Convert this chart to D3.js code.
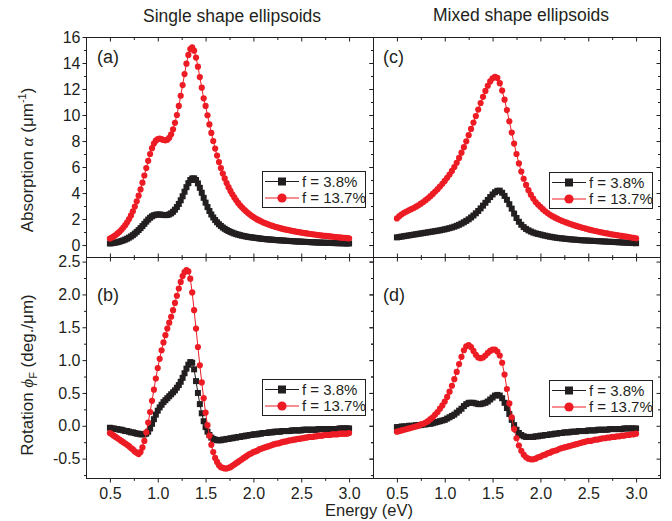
<!DOCTYPE html>
<html>
<head>
<meta charset="utf-8">
<title>absorption and faraday rotation</title>
<script src="https://d3js.org/d3.v7.min.js"></script>
<style>
  body { margin: 0; background: #fff; }
  svg text { font-family: 'Liberation Sans', Arial, sans-serif; fill: #231f20; }
</style>
</head>
<body>
<svg id="chart" width="672" height="521"></svg>
<script>

// energy grid: single shape every 0.02 eV, mixed shape every 0.025 eV, from 0.5 eV
var eStart = 0.5, stepSingle = 0.02, stepMixed = 0.025;

// (a) absorption, single shape
var absSingle38 = [
  0.12,0.14,0.16,0.19,0.22,0.26,0.31,0.36,0.42,0.49,
  0.57,0.66,0.76,0.88,1.01,1.15,1.30,1.46,1.63,1.80,
  1.96,2.10,2.21,2.29,2.33,2.35,2.35,2.33,2.31,2.30,
  2.31,2.36,2.44,2.56,2.72,2.92,3.16,3.44,3.75,4.10,
  4.45,4.76,5.00,5.12,5.13,5.00,4.74,4.40,4.02,3.63,
  3.26,2.92,2.62,2.35,2.12,1.92,1.75,1.60,1.47,1.35,
  1.25,1.16,1.08,1.01,0.95,0.89,0.84,0.80,0.76,0.72,
  0.69,0.66,0.63,0.61,0.59,0.57,0.55,0.53,0.51,0.49,
  0.47,0.46,0.44,0.43,0.42,0.41,0.39,0.38,0.37,0.36,
  0.35,0.34,0.33,0.32,0.31,0.30,0.29,0.28,0.27,0.27,
  0.26,0.25,0.24,0.24,0.23,0.22,0.21,0.21,0.20,0.19,
  0.19,0.18,0.18,0.17,0.17,0.16,0.16,0.15,0.15,0.14,
  0.14,0.14,0.13,0.13,0.12,0.12
];
var absSingle137 = [
  0.50,0.58,0.67,0.77,0.89,1.02,1.17,1.34,1.53,1.75,
  2.00,2.28,2.60,2.96,3.36,3.80,4.28,4.80,5.35,5.92,
  6.48,7.00,7.45,7.80,8.03,8.15,8.18,8.14,8.08,8.05,
  8.10,8.25,8.52,8.90,9.40,10.00,10.70,11.48,12.30,13.15,
  13.95,14.62,15.07,15.20,14.95,14.42,13.72,12.92,12.10,11.28,
  10.70,9.98,9.28,8.62,8.00,7.42,6.88,6.38,5.92,5.50,
  5.12,4.77,4.45,4.16,3.90,3.66,3.44,3.24,3.06,2.90,
  2.75,2.61,2.48,2.36,2.25,2.15,2.06,1.97,1.89,1.82,
  1.75,1.69,1.63,1.57,1.52,1.47,1.42,1.38,1.34,1.30,
  1.26,1.22,1.19,1.16,1.13,1.10,1.07,1.04,1.01,0.99,
  0.96,0.94,0.91,0.89,0.87,0.85,0.83,0.81,0.79,0.77,
  0.75,0.73,0.71,0.70,0.68,0.66,0.65,0.63,0.62,0.60,
  0.59,0.57,0.56,0.55,0.53,0.52
];

// (b) rotation, single shape
var rotSingle38 = [
  -0.03,-0.04,-0.04,-0.05,-0.05,-0.06,-0.06,-0.07,-0.08,-0.08,
  -0.09,-0.10,-0.10,-0.11,-0.12,-0.12,-0.13,-0.13,-0.13,-0.12,
  -0.09,-0.04,0.03,0.10,0.17,0.23,0.28,0.32,0.36,0.39,
  0.42,0.45,0.48,0.51,0.54,0.58,0.62,0.67,0.73,0.80,
  0.87,0.93,0.97,0.96,0.86,0.68,0.50,0.33,0.19,0.07,
  -0.02,-0.09,-0.14,-0.18,-0.20,-0.21,-0.22,-0.22,-0.22,-0.21,
  -0.21,-0.20,-0.20,-0.19,-0.19,-0.18,-0.18,-0.17,-0.17,-0.16,
  -0.16,-0.15,-0.15,-0.14,-0.14,-0.13,-0.13,-0.13,-0.12,-0.12,
  -0.11,-0.11,-0.11,-0.10,-0.10,-0.10,-0.09,-0.09,-0.09,-0.09,
  -0.08,-0.08,-0.08,-0.08,-0.08,-0.07,-0.07,-0.07,-0.07,-0.07,
  -0.07,-0.06,-0.06,-0.06,-0.06,-0.06,-0.06,-0.06,-0.06,-0.05,
  -0.05,-0.05,-0.05,-0.05,-0.05,-0.05,-0.05,-0.05,-0.05,-0.05,
  -0.04,-0.04,-0.04,-0.04,-0.04,-0.04
];
var rotSingle137 = [
  -0.11,-0.13,-0.15,-0.17,-0.19,-0.21,-0.23,-0.25,-0.27,-0.29,
  -0.31,-0.34,-0.36,-0.39,-0.41,-0.43,-0.40,-0.33,-0.23,-0.10,
  0.05,0.21,0.38,0.55,0.72,0.88,1.02,1.15,1.27,1.38,
  1.48,1.57,1.66,1.76,1.87,1.98,2.09,2.19,2.28,2.34,
  2.37,2.35,2.24,2.03,1.76,1.48,1.20,0.92,0.66,0.42,
  0.20,0.01,-0.15,-0.29,-0.40,-0.49,-0.55,-0.60,-0.63,-0.64,
  -0.65,-0.65,-0.64,-0.63,-0.61,-0.59,-0.57,-0.55,-0.53,-0.51,
  -0.49,-0.47,-0.45,-0.43,-0.42,-0.40,-0.39,-0.38,-0.36,-0.35,
  -0.34,-0.33,-0.32,-0.31,-0.30,-0.29,-0.28,-0.27,-0.27,-0.26,
  -0.25,-0.24,-0.24,-0.23,-0.22,-0.22,-0.21,-0.21,-0.20,-0.20,
  -0.19,-0.19,-0.18,-0.18,-0.17,-0.17,-0.17,-0.16,-0.16,-0.15,
  -0.15,-0.15,-0.14,-0.14,-0.14,-0.14,-0.13,-0.13,-0.13,-0.13,
  -0.12,-0.12,-0.12,-0.12,-0.12,-0.11
];

// (c) absorption, mixed shape
var absMixed38 = [
  0.59,0.62,0.65,0.68,0.71,0.74,0.77,0.80,0.83,0.86,
  0.89,0.92,0.95,0.98,1.01,1.04,1.07,1.10,1.13,1.17,
  1.21,1.25,1.30,1.35,1.41,1.48,1.56,1.65,1.75,1.86,
  1.98,2.12,2.27,2.44,2.62,2.82,3.03,3.25,3.47,3.69,
  3.89,4.06,4.17,4.18,4.02,3.78,3.48,3.14,2.80,2.42,
  2.08,1.79,1.56,1.38,1.24,1.13,1.04,0.96,0.90,0.85,
  0.81,0.76,0.72,0.68,0.64,0.61,0.58,0.55,0.53,0.51,
  0.49,0.47,0.45,0.43,0.42,0.40,0.39,0.37,0.36,0.35,
  0.34,0.33,0.32,0.31,0.30,0.29,0.28,0.27,0.26,0.25,
  0.24,0.23,0.22,0.21,0.20,0.19,0.18,0.17,0.16,0.15,
  0.14
];
var absMixed137 = [
  2.05,2.22,2.36,2.48,2.58,2.67,2.76,2.85,2.95,3.06,
  3.18,3.31,3.45,3.60,3.76,3.93,4.11,4.30,4.50,4.71,
  4.93,5.17,5.42,5.70,6.00,6.33,6.70,7.10,7.53,7.98,
  8.45,8.93,9.42,9.92,10.42,10.92,11.40,11.85,12.25,12.58,
  12.82,12.93,12.85,12.45,11.88,11.18,10.38,9.52,8.65,7.80,
  7.00,6.28,5.65,5.10,4.62,4.22,3.87,3.57,3.31,3.11,
  2.94,2.76,2.60,2.46,2.33,2.22,2.12,2.03,1.94,1.86,
  1.79,1.72,1.65,1.59,1.53,1.47,1.41,1.36,1.31,1.26,
  1.21,1.16,1.12,1.08,1.04,1.00,0.96,0.92,0.89,0.85,
  0.82,0.79,0.76,0.73,0.70,0.67,0.64,0.61,0.58,0.55,
  0.52
];

// (d) rotation, mixed shape
var rotMixed38 = [
  -0.02,-0.02,-0.01,-0.01,-0.01,0.00,0.00,0.00,0.01,0.01,
  0.01,0.02,0.02,0.03,0.03,0.04,0.05,0.06,0.07,0.08,
  0.09,0.11,0.13,0.15,0.17,0.20,0.23,0.26,0.30,0.33,
  0.35,0.35,0.35,0.34,0.33,0.33,0.34,0.35,0.37,0.40,
  0.43,0.46,0.47,0.46,0.42,0.35,0.27,0.18,0.09,0.01,
  -0.06,-0.11,-0.14,-0.16,-0.17,-0.17,-0.17,-0.17,-0.16,-0.16,
  -0.15,-0.15,-0.14,-0.14,-0.13,-0.13,-0.12,-0.12,-0.11,-0.11,
  -0.10,-0.10,-0.10,-0.09,-0.09,-0.09,-0.08,-0.08,-0.08,-0.08,
  -0.07,-0.07,-0.07,-0.07,-0.06,-0.06,-0.06,-0.06,-0.06,-0.05,
  -0.05,-0.05,-0.05,-0.05,-0.05,-0.04,-0.04,-0.04,-0.04,-0.04,
  -0.04
];
var rotMixed137 = [
  -0.09,-0.08,-0.07,-0.06,-0.05,-0.04,-0.03,-0.02,-0.01,0.00,
  0.02,0.03,0.05,0.07,0.10,0.13,0.17,0.21,0.26,0.31,
  0.37,0.44,0.52,0.61,0.71,0.82,0.94,1.05,1.15,1.21,
  1.23,1.20,1.14,1.08,1.04,1.03,1.04,1.07,1.11,1.14,
  1.16,1.16,1.13,1.07,0.96,0.78,0.56,0.34,0.13,-0.05,
  -0.19,-0.30,-0.38,-0.44,-0.48,-0.50,-0.51,-0.51,-0.50,-0.48,
  -0.47,-0.45,-0.44,-0.42,-0.41,-0.39,-0.38,-0.37,-0.35,-0.34,
  -0.33,-0.32,-0.31,-0.30,-0.29,-0.28,-0.27,-0.26,-0.25,-0.24,
  -0.23,-0.23,-0.22,-0.21,-0.21,-0.20,-0.19,-0.19,-0.18,-0.18,
  -0.17,-0.17,-0.16,-0.16,-0.15,-0.15,-0.14,-0.14,-0.13,-0.13,
  -0.12
];

var xTicks = [0.5, 1.0, 1.5, 2.0, 2.5, 3.0];
var xMinor = [0.75, 1.25, 1.75, 2.25, 2.75];
var absTicks = [0, 2, 4, 6, 8, 10, 12, 14, 16];
var absMinor = [1, 3, 5, 7, 9, 11, 13, 15];
var rotTicks = [-0.5, 0.0, 0.5, 1.0, 1.5, 2.0, 2.5];
var rotMinor = [-0.75, -0.25, 0.25, 0.75, 1.25, 1.75, 2.25];
var legendLabels = ['f = 3.8%', 'f = 13.7%'];
var titles = ['Single shape ellipsoids', 'Mixed shape ellipsoids'];
var panelNames = ['(a)', '(b)', '(c)', '(d)'];

var ink = '#231f20', red = '#ed1c24';

var svg = d3.select('#chart');

// panel boxes
var cols = [[86, 373], [373, 660]];
var rows = [[37, 257], [257, 478]];

var panels = [
  {name: panelNames[0], col: 0, row: 0, step: stepSingle, black: absSingle38, red: absSingle137, legendY: 171},
  {name: panelNames[1], col: 0, row: 1, step: stepSingle, black: rotSingle38, red: rotSingle137, legendY: 379},
  {name: panelNames[2], col: 1, row: 0, step: stepMixed, black: absMixed38, red: absMixed137, legendY: 172},
  {name: panelNames[3], col: 1, row: 1, step: stepMixed, black: rotMixed38, red: rotMixed137, legendY: 380}
];

function styleAxis(g) {
  g.attr('font-size', null).attr('font-family', null);
  g.select('.domain').remove();
  g.selectAll('.tick line').attr('stroke', ink).attr('stroke-width', 1);
  g.selectAll('.tick text').attr('fill', null).attr('font-size', 16);
}

panels.forEach(function(p) {
  var x = d3.scaleLinear().domain([0.25, 3.25]).range(cols[p.col]);
  var y = p.row == 0
    ? d3.scaleLinear().domain([-0.92, 16]).range([rows[0][1], rows[0][0]])
    : d3.scaleLinear().domain([-0.795, 2.57]).range([rows[1][1], rows[1][0]]);
  var major = p.row == 0 ? absTicks : rotTicks;
  var minor = p.row == 0 ? absMinor : rotMinor;
  var fmt = p.row == 0 ? (d => String(d)) : (d => d.toFixed(1));
  var x0 = cols[p.col][0], x1 = cols[p.col][1], y0 = rows[p.row][0], y1 = rows[p.row][1];

  var g = svg.append('g');

  // frame
  g.append('rect')
    .attr('x', x0 + 0.5).attr('y', y0 + 0.5)
    .attr('width', x1 - x0).attr('height', y1 - y0)
    .attr('fill', 'none').attr('stroke', ink).attr('stroke-width', 1);

  // left ticks (labels only on left column)
  g.append('g').attr('transform', 'translate(' + (x0 + 0.5) + ',0)')
    .call(d3.axisLeft(y).tickValues(major).tickSize(4).tickPadding(2)
      .tickFormat(p.col == 0 ? fmt : ''))
    .call(styleAxis);
  g.append('g').attr('transform', 'translate(' + (x0 + 0.5) + ',0)')
    .call(d3.axisLeft(y).tickValues(minor).tickSize(2.5).tickFormat(''))
    .call(styleAxis);
  // right ticks, inward
  g.append('g').attr('transform', 'translate(' + (x1 + 0.5) + ',0)')
    .call(d3.axisRight(y).tickValues(major).tickSize(-4).tickFormat(''))
    .call(styleAxis);
  g.append('g').attr('transform', 'translate(' + (x1 + 0.5) + ',0)')
    .call(d3.axisRight(y).tickValues(minor).tickSize(-2.5).tickFormat(''))
    .call(styleAxis);
  // top ticks, inward
  g.append('g').attr('transform', 'translate(0,' + (y0 + 0.5) + ')')
    .call(d3.axisTop(x).tickValues(xTicks).tickSize(-4).tickFormat(''))
    .call(styleAxis);
  g.append('g').attr('transform', 'translate(0,' + (y0 + 0.5) + ')')
    .call(d3.axisTop(x).tickValues(xMinor).tickSize(-2.5).tickFormat(''))
    .call(styleAxis);
  // bottom ticks: outward with labels on the bottom row, inward on the top row
  var out = p.row == 1 ? 4 : -4;
  g.append('g').attr('transform', 'translate(0,' + (y1 + 0.5) + ')')
    .call(d3.axisBottom(x).tickValues(xTicks).tickSize(out).tickPadding(5)
      .tickFormat(p.row == 1 ? (d => d.toFixed(1)) : ''))
    .call(styleAxis);
  g.append('g').attr('transform', 'translate(0,' + (y1 + 0.5) + ')')
    .call(d3.axisBottom(x).tickValues(xMinor).tickSize(out * 0.6).tickFormat(''))
    .call(styleAxis);

  // series: black squares first, red circles on top
  var line = d3.line().x((d, i) => x(eStart + i * p.step)).y(d => y(d));

  g.append('path').datum(p.black)
    .attr('d', line).attr('fill', 'none').attr('stroke', ink).attr('stroke-width', 1);
  g.selectAll('rect.sq').data(p.black).enter().append('rect')
    .attr('class', 'sq')
    .attr('x', (d, i) => x(eStart + i * p.step) - 3)
    .attr('y', d => y(d) - 3)
    .attr('width', 6).attr('height', 6)
    .attr('fill', ink);

  g.append('path').datum(p.red)
    .attr('d', line).attr('fill', 'none').attr('stroke', red).attr('stroke-width', 1);
  g.selectAll('circle.dot').data(p.red).enter().append('circle')
    .attr('class', 'dot')
    .attr('cx', (d, i) => x(eStart + i * p.step))
    .attr('cy', d => y(d))
    .attr('r', 3.1)
    .attr('fill', red);

  // panel letter
  g.append('text')
    .attr('x', x0 + (p.col == 0 ? 11 : 10))
    .attr('y', p.row == 0 ? 63 : 301)
    .attr('font-size', 18)
    .text(p.name);

  // legend
  var lx = x1 - 111, ly = p.legendY;
  var lg = g.append('g').attr('transform', 'translate(' + lx + ',' + ly + ')');
  lg.append('rect')
    .attr('x', 0.5).attr('y', 0.5).attr('width', 103).attr('height', 36)
    .attr('fill', '#fff').attr('stroke', ink).attr('stroke-width', 1);
  legendLabels.forEach(function(lab, k) {
    var cy = k == 0 ? 10.5 : 27;
    var col = k == 0 ? ink : red;
    lg.append('line').attr('x1', 3).attr('x2', 37).attr('y1', cy).attr('y2', cy)
      .attr('stroke', col).attr('stroke-width', 1);
    if (k == 0) {
      lg.append('rect').attr('x', 20 - 4).attr('y', cy - 4).attr('width', 8).attr('height', 8)
        .attr('fill', col);
    } else {
      lg.append('circle').attr('cx', 20).attr('cy', cy).attr('r', 4.6).attr('fill', col);
    }
    lg.append('text').attr('x', 40).attr('y', cy + 5).attr('font-size', 15).text(lab);
  });
});

// column titles
svg.append('text').attr('x', 232).attr('y', 22).attr('text-anchor', 'middle')
  .attr('font-size', 17.5).text(titles[0]);
svg.append('text').attr('x', 521).attr('y', 21).attr('text-anchor', 'middle')
  .attr('font-size', 17.5).text(titles[1]);

// axis titles
var ya = svg.append('text')
  .attr('transform', 'translate(33,160) rotate(-90)')
  .attr('text-anchor', 'middle').attr('font-size', 17);
ya.append('tspan').text('Absorption ');
ya.append('tspan').attr('font-style', 'italic').attr('font-family', 'Liberation Serif, serif').text('α');
ya.append('tspan').text(' (μm');
ya.append('tspan').attr('font-size', 11).attr('dy', -7).text('-1');
ya.append('tspan').attr('dy', 7).text(')');

var yb = svg.append('text')
  .attr('transform', 'translate(33,375) rotate(-90)')
  .attr('text-anchor', 'middle').attr('font-size', 17);
yb.append('tspan').text('Rotation ');
yb.append('tspan').attr('font-style', 'italic').attr('font-family', 'Liberation Serif, serif').text('ϕ');
yb.append('tspan').attr('font-size', 11).attr('dy', 4).text('F');
yb.append('tspan').attr('dy', -4).text(' (deg./μm)');

svg.append('text').attr('x', 369).attr('y', 516).attr('text-anchor', 'middle')
  .attr('font-size', 16.5).text('Energy (eV)');

</script>
</body>
</html>
